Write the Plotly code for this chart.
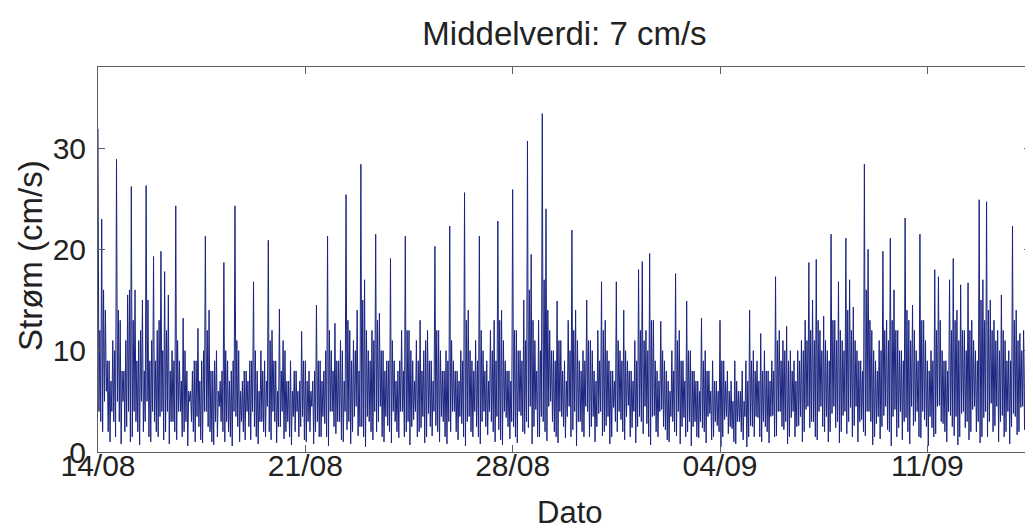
import pandas as pd
import plotly.graph_objects as go

# ---- data ----
# 3-hour bins; in each bin the record swings up (hi), down (lo), up again (hi2), down again (lo2)
start = "2013-08-14 00:00"
bin_hours = 3

hi = [
    31.9, 23, 14, 9, 11, 28.9, 13, 8, 15.5, 26.2, 16, 11, 15, 26.3, 9, 19.3, 12, 19.8, 17.8, 15.5,
    10, 24.3, 9, 13.2, 8, 6, 9, 12.2, 9, 21.3, 14, 8, 10, 7, 18.7, 9, 8, 24.3, 10, 7,
    8, 9, 16.8, 8, 10, 9, 20.9, 12, 9, 14.1, 11, 7, 9, 8, 6, 11.9, 9, 8, 7, 14.5,
    9, 8, 21.3, 10, 12.7, 9, 10, 25.4, 12, 11, 14, 28.4, 17, 10, 12, 21.5, 13.7, 10, 9, 19.1,
    9, 8, 12, 21.3, 12, 9, 11, 13, 10, 12, 9, 20.3, 12, 8, 10, 22.3, 9, 8, 10, 25.6,
    14, 9, 11, 21.3, 10, 9, 12, 13, 22.8, 14, 9, 8, 25.9, 12, 10, 15, 30.7, 19.5, 11, 13,
    33.4, 24, 12, 10, 14.9, 11, 9, 13, 21.9, 14, 9, 10, 15, 11, 8, 12, 16.8, 13, 9, 8,
    16.8, 10, 14, 9, 8, 11, 18, 18.8, 12, 19.6, 13, 8, 12.9, 9, 7, 10, 17.6, 12, 9, 14.9,
    10, 8, 7, 13.2, 10, 8, 9, 7, 13, 9, 8, 7, 9, 6, 8, 9, 14, 10, 9, 11.7,
    10, 8, 9, 17.3, 12, 11, 12.4, 10, 9, 10, 11, 13, 18.7, 15, 19, 12, 13.4, 10, 21.5, 13,
    16.8, 11, 21.1, 17, 14.3, 10, 9, 28.4, 20, 12, 9, 11, 19.8, 13, 21.1, 16, 12, 10, 23.1, 13,
    14.5, 10, 21.5, 13, 9, 10, 18, 17.3, 10, 9, 17, 19.1, 14, 16.5, 12, 16.7, 13, 10, 24.9, 17,
    24.7, 15, 13, 12, 15.5, 11, 10, 22.3, 14, 11.7, 12, 10,
]

lo = [
    4, 2, 6, 1, 3, 5, 0.8, 2, 4, 1.5, 3, 0.7, 2, 5, 1, 3, 1.5, 4, 2, 0.8,
    3, 1.2, 4, 2, 0.6, 3, 1, 2.5, 0.9, 4, 2, 0.7, 1.5, 3, 1, 2, 0.6, 3.5, 1, 2,
    4, 1.2, 2.5, 0.8, 3, 1.5, 2, 4, 0.9, 2.5, 1.3, 3, 0.7, 2, 1.5, 3.5, 1, 2, 0.8, 3,
    1.5, 2.8, 0.6, 4, 1.8, 3, 1, 2.2, 0.8, 3.5, 1.6, 2.5, 0.5, 3, 1.2, 2, 4.5, 1, 2.6, 0.9,
    3, 1.4, 4, 2, 0.7, 3.2, 1.5, 2.4, 0.9, 3.8, 1.6, 2.6, 1, 3, 0.8, 2, 4, 1.2, 2.8, 0.6,
    3.5, 1.5, 2.5, 0.8, 4, 1.7, 3, 1, 2.2, 0.7, 3.4, 1.3, 2.5, 0.9, 3.6, 1.8, 2.4, 0.8, 4.2, 1.5,
    3, 1.1, 5, 2, 0.9, 3.5, 1.4, 4.5, 2.2, 0.6, 3, 1.5, 4, 2.5, 1, 3.8, 1.6, 2.6, 0.8, 4.4,
    2, 3.2, 1.2, 4.6, 2.4, 0.9, 3.5, 1.8, 2.8, 0.7, 3.6, 1.5, 4.2, 2.2, 1, 3, 1.6, 0.8, 3.4, 2,
    0.6, 3, 1.4, 2.4, 0.9, 3.8, 1.5, 2.6, 0.5, 3.2, 1.8, 2.3, 0.8, 3, 1.2, 0.5, 2.6, 1.5, 3.4, 1,
    2.5, 0.9, 3.6, 1.6, 4, 2.2, 0.8, 3.4, 1.5, 2.6, 1, 4.2, 2.4, 3, 1.2, 4.5, 2, 1, 3.8, 2.4,
    0.9, 3.6, 1.8, 4.4, 2.6, 1, 3.2, 1.6, 4, 0.7, 2.8, 1.3, 3.6, 2.2, 0.6, 4.2, 2.4, 1.2, 3.4, 0.8,
    2.6, 4, 1.4, 3.2, 0.6, 2.4, 1.8, 4.6, 2.8, 1, 3.6, 1.6, 0.7, 3.8, 2.4, 1.2, 4.2, 2, 0.9, 3.4,
    1.5, 4.8, 2.6, 1, 3.6, 2, 0.8, 3.8, 1.7, 4.4, 2.2, 1.3,
]

hi2 = [
    12, 16, 9, 7, 10, 14, 8, 11, 16, 13, 9, 12, 8, 15, 11, 9, 13, 10, 12, 8,
    9, 11, 7, 10, 6, 8, 9, 7, 10, 12, 8, 9, 6, 8, 10, 7, 9, 11, 6, 8,
    7, 9, 10, 6, 8, 7, 11, 9, 6, 8, 10, 7, 6, 8, 7, 9, 7, 6, 8, 9,
    7, 10, 12, 8, 9, 11, 7, 13, 9, 10, 8, 15, 12, 9, 11, 13, 10, 8, 9, 11,
    7, 9, 8, 12, 10, 7, 9, 8, 11, 9, 7, 12, 10, 8, 9, 11, 8, 7, 9, 13,
    10, 8, 9, 12, 8, 7, 10, 9, 13, 11, 8, 7, 12, 10, 9, 11, 16, 13, 8, 10,
    17, 14, 10, 9, 11, 8, 7, 10, 12, 11, 8, 9, 11, 10, 7, 9, 12, 10, 8, 7,
    11, 9, 10, 8, 7, 9, 12, 11, 10, 13, 9, 7, 10, 8, 6, 8, 11, 9, 7, 10,
    8, 7, 6, 9, 8, 6, 7, 6, 9, 7, 6, 5, 7, 6, 5, 7, 9, 8, 7, 8,
    8, 7, 8, 11, 9, 10, 9, 8, 7, 9, 10, 11, 12, 11, 13, 10, 11, 9, 13, 11,
    12, 10, 14, 12, 11, 9, 8, 16, 13, 10, 8, 10, 12, 11, 13, 12, 10, 9, 14, 11,
    12, 9, 13, 11, 8, 9, 12, 13, 9, 8, 12, 13, 11, 12, 10, 12, 11, 9, 15, 13,
    14, 12, 11, 10, 12, 9, 9, 13, 11, 10, 11, 9,
]

lo2 = [
    3, 5, 2, 4, 1.5, 3, 5, 2.5, 1, 4, 2, 5, 3, 1.5, 4, 2, 3.5, 1.2, 4, 3,
    2, 4, 1.5, 3, 5, 2, 3.5, 1.2, 4, 2.5, 1, 3, 4.5, 2, 3, 1.5, 4, 2.5, 3, 1.2,
    2.5, 4, 1.5, 3, 2, 4.5, 1.2, 3, 2.5, 4, 2, 1.5, 3.5, 4, 2.5, 1.2, 3, 4.5, 2, 1.5,
    3.5, 1.5, 4, 2.5, 3, 1.2, 4, 3, 2, 4.5, 2.5, 1.5, 3.5, 2, 4, 3, 1.5, 3.5, 2, 4,
    2, 4, 1.5, 3, 2.5, 4, 2, 3.5, 1.5, 2.5, 4, 2, 3.5, 1.5, 3, 4, 2, 3.5, 1.5, 3,
    2, 4, 1.5, 3, 2.5, 4, 2, 3.5, 1.2, 4, 2.5, 3, 1.5, 4, 2, 3, 4.5, 2.5, 1.5, 3.5,
    2, 4.5, 3, 1.5, 4, 2.5, 3.5, 1.5, 4, 3, 2, 4.5, 1.5, 3.5, 2.5, 4, 2, 3.5, 1.5, 3,
    4, 2, 3.5, 1.5, 4, 2.5, 3, 4.5, 1.5, 3.5, 2, 4, 2.5, 1.2, 3.5, 2, 4, 2.5, 1.5, 3,
    2.5, 1.5, 3, 2, 3.5, 1.2, 3, 2, 1.5, 3.5, 2.5, 1, 3, 2, 3.5, 1.5, 2.5, 3.5, 1.5, 3,
    2, 3.5, 1.5, 4, 2.5, 3, 1.5, 4, 2.5, 3.5, 2, 4.5, 3, 1.5, 4, 2.5, 3.5, 2, 4.5, 3,
    2, 4, 3, 1.5, 4.5, 3, 2, 4, 3, 1.5, 3.5, 2.5, 4.5, 2, 3.5, 1.5, 4, 3, 2, 4.5,
    3, 1.5, 4, 2.5, 3.5, 1.5, 4.5, 3, 2, 4, 2.5, 3.5, 1.5, 4, 3, 2, 4.5, 3, 1.5, 4,
    3, 2, 4.5, 3, 1.5, 4, 2.5, 3.5, 2, 4.5, 3, 2,
]

tick_dates = ["2013-08-14", "2013-08-21", "2013-08-28", "2013-09-04", "2013-09-11"]
tick_labels = ["14/08", "21/08", "28/08", "04/09", "11/09"]
y_ticks = [0, 10, 20, 30]

# ---- build the series from the four swings of each bin ----
n = min(len(hi), len(lo), len(hi2), len(lo2))
t0 = pd.Timestamp(start)
step = bin_hours / 4
times, speed = [], []
for i in range(n):
    for k, arr in enumerate((hi, lo, hi2, lo2)):
        times.append(t0 + pd.Timedelta(hours=i * bin_hours + k * step))
        speed.append(arr[i])

fig = go.Figure()
fig.add_trace(go.Scatter(
    x=times, y=speed, mode="lines",
    line=dict(color="rgb(26,36,128)", width=1),
    showlegend=False,
))

font_family = "Liberation Sans, Arial, Helvetica, sans-serif"
axis_color = "#5e5e5e"
text_color = "#222"

# the page body adds an 8 px offset, so the figure is 8 px smaller than the window
W, H = 1025, 521
fig.update_layout(
    width=W, height=H,
    paper_bgcolor="white", plot_bgcolor="white",
    margin=dict(l=90, r=2, t=59, b=77),
    title=dict(
        text="Middelverdi: 7 cm/s",
        x=0.5, xref="paper", xanchor="center",
        y=1 - 25 / H, yref="container", yanchor="middle",
        font=dict(family=font_family, size=33, color=text_color),
    ),
    font=dict(family=font_family, color=text_color),
    annotations=[
        dict(text="Dato", xref="paper", yref="paper",
             x=(569 - 98) / 933, y=(452 - 512) / 385,
             xanchor="center", yanchor="middle", showarrow=False,
             font=dict(family=font_family, size=31, color=text_color)),
        dict(text="Strøm (cm/s)", xref="paper", yref="paper",
             x=(30 - 98) / 933, y=(452 - 256) / 385, textangle=-90,
             xanchor="center", yanchor="middle", showarrow=False,
             font=dict(family=font_family, size=33, color=text_color)),
    ],
)

fig.update_xaxes(
    type="date", automargin=False,
    range=[t0, t0 + pd.Timedelta(hours=n * bin_hours)],
    tickvals=tick_dates, ticktext=tick_labels,
    ticks="inside", ticklen=7, tickcolor=axis_color, tickwidth=1,
    showline=True, linecolor=axis_color, linewidth=1, mirror="ticks",
    showgrid=False, zeroline=False, ticklabelstandoff=-13,
    tickfont=dict(family=font_family, size=30, color=text_color),
)
fig.update_yaxes(
    automargin=False,
    range=[0, 38],
    tickvals=y_ticks,
    ticks="inside", ticklen=7, tickcolor=axis_color, tickwidth=1,
    showline=True, linecolor=axis_color, linewidth=1, mirror="ticks",
    showgrid=False, zeroline=False, ticklabelstandoff=5,
    tickfont=dict(family=font_family, size=30, color=text_color),
)

fig.write_html("out.html")
